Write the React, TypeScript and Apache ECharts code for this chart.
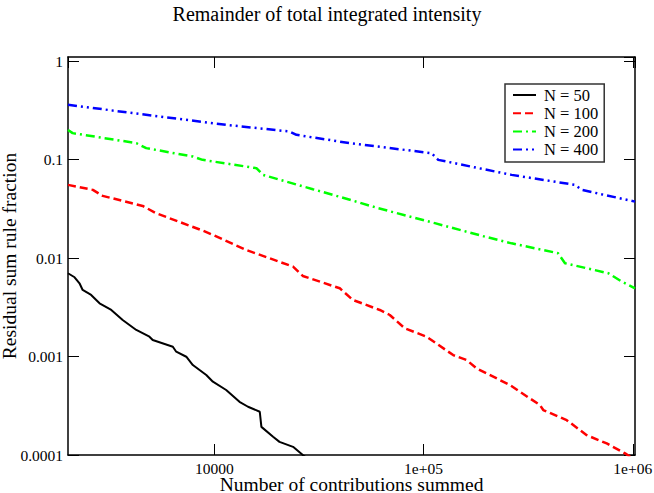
import React, { useEffect, useRef } from "react";
import * as echarts from "echarts";

const FONT = "'Liberation Serif', 'Times New Roman', serif";

const seriesNames = ["N = 50", "N = 100", "N = 200", "N = 400"];
const seriesColors = ["#000000", "#ff0000", "#00ff00", "#0000ff"];

const n50Data: [number, number][] = [
  [2000, 0.00701], [2150, 0.00638], [2270, 0.00554], [2350, 0.00474], [2580, 0.00422],
  [2830, 0.00347], [3220, 0.00297], [3650, 0.00235], [4240, 0.00186], [4900, 0.00159],
  [5080, 0.00147], [6340, 0.001258], [6580, 0.001119], [7350, 0.000995], [7900, 0.00082],
  [9160, 0.000649], [9850, 0.000555], [11400, 0.000457], [13200, 0.000347], [14500, 0.000309],
  [16500, 0.000275], [16800, 0.000193], [19100, 0.000153], [20500, 0.000136], [23800, 0.000121],
  [26500, 0.0000998], [28600, 0.000089],
];

const n100Data: [number, number][] = [
  [2000, 0.0553], [2630, 0.0492], [2930, 0.0428], [4550, 0.0338], [5280, 0.0285],
  [8800, 0.019], [9850, 0.01717], [14200, 0.01209], [23800, 0.00818], [26500, 0.00658],
  [39800, 0.00493], [46000, 0.00375], [61800, 0.00297], [69000, 0.00264], [81400, 0.001934],
  [103400, 0.001589], [138600, 0.001035], [160600, 0.000921], [179300, 0.000759],
  [258800, 0.000513], [360200, 0.000321], [373500, 0.000286], [483400, 0.000226],
  [602500, 0.000159], [751000, 0.000131], [919000, 0.0001038], [1025000, 0.0000888],
];

const n200Data: [number, number][] = [
  [2000, 0.2], [2105, 0.1855], [4240, 0.1468], [4730, 0.1306], [7900, 0.1073],
  [8790, 0.0993], [15900, 0.0818], [17100, 0.0699], [29600, 0.05], [42000, 0.0405],
  [60700, 0.0321], [113300, 0.0226], [196500, 0.0165], [263600, 0.0141], [439500, 0.0112],
  [474500, 0.00886], [764400, 0.00701], [886200, 0.00576], [1025000, 0.00493],
];

const n400Data: [number, number][] = [
  [2000, 0.36], [5470, 0.2735], [11400, 0.2253], [22900, 0.1926], [24700, 0.1782],
  [44400, 0.1468], [109200, 0.1161], [117500, 0.0993], [263600, 0.0699], [529600, 0.0553],
  [570200, 0.0492], [1025000, 0.0374],
];

const xMin = 2000;
const xMax = 1025000;
const yMin = 0.0001;
const yMax = 1.1;

const chartTitle = "Remainder of total integrated intensity";
const xName = "Number of contributions summed";
const yName = "Residual sum rule fraction";

function xLabel(v: number): string {
  const e = Math.round(Math.log10(v));
  if (e <= 4) return String(Math.round(Math.pow(10, e)));
  return "1e+" + (e < 10 ? "0" + e : String(e));
}

function yLabel(v: number): string {
  const e = Math.round(Math.log10(v));
  if (e >= 0) return String(Math.round(Math.pow(10, e)));
  return "0." + "0".repeat(-e - 1) + "1";
}

export default function App() {
  const ref = useRef<HTMLDivElement>(null);
  useEffect(() => {
    if (!ref.current) return;
    const chart = echarts.init(ref.current, null, { renderer: "svg" });
    const axisLine = { show: true, lineStyle: { color: "#000", width: 1.5 } };
    const tick = { show: true, inside: true, length: 11, lineStyle: { color: "#000", width: 1 } };
    const datasets = [n50Data, n100Data, n200Data, n400Data];
    const lineTypes: any[] = ["solid", [8, 4], [9, 4, 2, 4], [9, 4, 2, 4, 2, 4]];
    const widths = [2, 2.5, 2.5, 2.5];
    chart.setOption({
      animation: false,
      backgroundColor: "#fff",
      grid: { left: 68, right: 19, top: 57, bottom: 38, containLabel: false, outerBoundsMode: "none" },
      legend: {
        orient: "vertical",
        left: 505,
        top: 84,
        data: seriesNames,
        itemWidth: 23,
        itemHeight: 12,
        itemGap: 1.2,
        padding: [2.5, 6, 4, 7],
        backgroundColor: "#fff",
        borderColor: "#333",
        borderWidth: 1.5,
        borderRadius: 0,
        itemStyle: { opacity: 0 },
        textStyle: { fontFamily: FONT, fontSize: 16.5, color: "#000", padding: [0, 0, 0, 3] },
      },
      xAxis: [
        {
          type: "log",
          min: xMin,
          max: xMax,
          position: "bottom",
          axisLine,
          axisTick: tick,
          minorTick: { show: false },
          splitLine: { show: false },
          axisLabel: {
            formatter: xLabel,
            fontFamily: FONT,
            fontSize: 15.5,
            lineHeight: 14,
            color: "#000",
            margin: 6.5,
            showMinLabel: false,
            showMaxLabel: false,
          },
        },
        {
          type: "log",
          min: xMin,
          max: xMax,
          position: "top",
          axisLine,
          axisTick: tick,
          splitLine: { show: false },
          axisLabel: { show: false },
        },
      ],
      yAxis: [
        {
          type: "log",
          min: yMin,
          max: yMax,
          position: "left",
          axisLine,
          axisTick: tick,
          minorTick: { show: false },
          splitLine: { show: false },
          axisLabel: {
            formatter: yLabel,
            fontFamily: FONT,
            fontSize: 15.5,
            color: "#000",
            margin: 5,
            showMinLabel: true,
            showMaxLabel: false,
          },
        },
        {
          type: "log",
          min: yMin,
          max: yMax,
          position: "right",
          axisLine,
          axisTick: tick,
          splitLine: { show: false },
          axisLabel: { show: false },
        },
      ],
      series: datasets.map((d, i) => ({
        name: seriesNames[i],
        type: "line",
        data: d,
        xAxisIndex: 0,
        yAxisIndex: 0,
        symbol: "none",
        showSymbol: false,
        clip: true,
        color: seriesColors[i],
        lineStyle: { color: seriesColors[i], width: widths[i], type: lineTypes[i] },
      })),
      graphic: [
        {
          type: "text",
          x: 327,
          y: 14,
          style: { text: chartTitle, fontFamily: FONT, fontSize: 20, fill: "#000", align: "center", verticalAlign: "middle" },
        },
        {
          type: "text",
          x: 351.5,
          y: 484,
          style: { text: xName, fontFamily: FONT, fontSize: 19.5, lineHeight: 17, fill: "#000", align: "center", verticalAlign: "middle" },
        },
        {
          type: "text",
          x: 9.5,
          y: 256,
          rotation: Math.PI / 2,
          style: { text: yName, fontFamily: FONT, fontSize: 19.5, fill: "#000", align: "center", verticalAlign: "middle" },
        },
      ],
    });
    return () => chart.dispose();
  }, []);
  return <div ref={ref} style={{ width: 654, height: 493, position: "absolute", left: 0, top: 0 }} />;
}
